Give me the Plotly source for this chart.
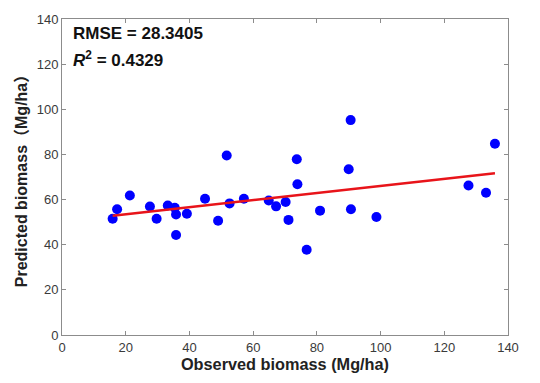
import plotly.graph_objects as go

observed = [15.9, 17.3, 21.3, 27.6, 29.7, 33.2, 35.4, 35.8, 35.8, 39.2,
            44.9, 49.0, 51.7, 52.6, 57.1, 64.9, 67.2, 70.2, 71.1, 73.9,
            73.7, 76.8, 81.0, 90.0, 90.6, 90.7, 98.7, 127.6, 133.1, 135.9]
predicted = [51.5, 55.7, 61.8, 56.9, 51.5, 57.4, 56.4, 53.4, 44.3, 53.7,
             60.4, 50.6, 79.5, 58.3, 60.4, 59.6, 57.0, 58.9, 51.0, 66.8,
             77.9, 37.8, 55.1, 73.4, 95.2, 55.7, 52.3, 66.2, 63.0, 84.7]
fit_x = [15.9, 135.9]
fit_y = [52.8, 71.7]
tick_vals = [0, 20, 40, 60, 80, 100, 120, 140]

FONT = "Liberation Sans, Arial, Noto Sans CJK SC"

fig = go.Figure()
fig.add_trace(go.Scatter(x=observed, y=predicted, mode="markers",
                         marker=dict(color="#0000ff", size=10, line=dict(width=0)),
                         showlegend=False))
fig.add_trace(go.Scatter(x=fit_x, y=fit_y, mode="lines",
                         line=dict(color="#e8141a", width=2.5), showlegend=False))

axis_common = dict(showgrid=False, zeroline=False, showline=True, linecolor="#8c8c8c",
                   linewidth=1, mirror="ticks", ticks="inside", ticklen=4,
                   tickcolor="#8c8c8c", tickvals=tick_vals,
                   tickfont=dict(family=FONT, size=13, color="#3a3a3a"))

fig.update_xaxes(range=[0, 140], title=dict(text="<b>Observed biomass (Mg/ha)</b>",
                 font=dict(family=FONT, size=16.3, color="#222222"),
                 standoff=3), **axis_common)
fig.update_yaxes(range=[0, 140], title=dict(text="<b>Predicted biomass（Mg/ha）</b>",
                 font=dict(family=FONT, size=16, color="#222222"),
                 standoff=5), **axis_common)

fig.add_annotation(x=0.02, y=0.955, xref="paper", yref="paper", xanchor="left", yanchor="middle",
                   text="<b>RMSE = 28.3405</b>", showarrow=False,
                   font=dict(family=FONT, size=17, color="#111111"))
fig.add_annotation(x=0.02, y=0.875, xref="paper", yref="paper", xanchor="left", yanchor="middle",
                   text="<b><i>R</i><sup>2</sup> = 0.4329</b>", showarrow=False,
                   font=dict(family=FONT, size=17, color="#111111"))

fig.update_layout(width=540, height=383, margin=dict(l=62, r=32, t=15, b=48),
                  plot_bgcolor="white", paper_bgcolor="white")
fig.write_html("out.html")
